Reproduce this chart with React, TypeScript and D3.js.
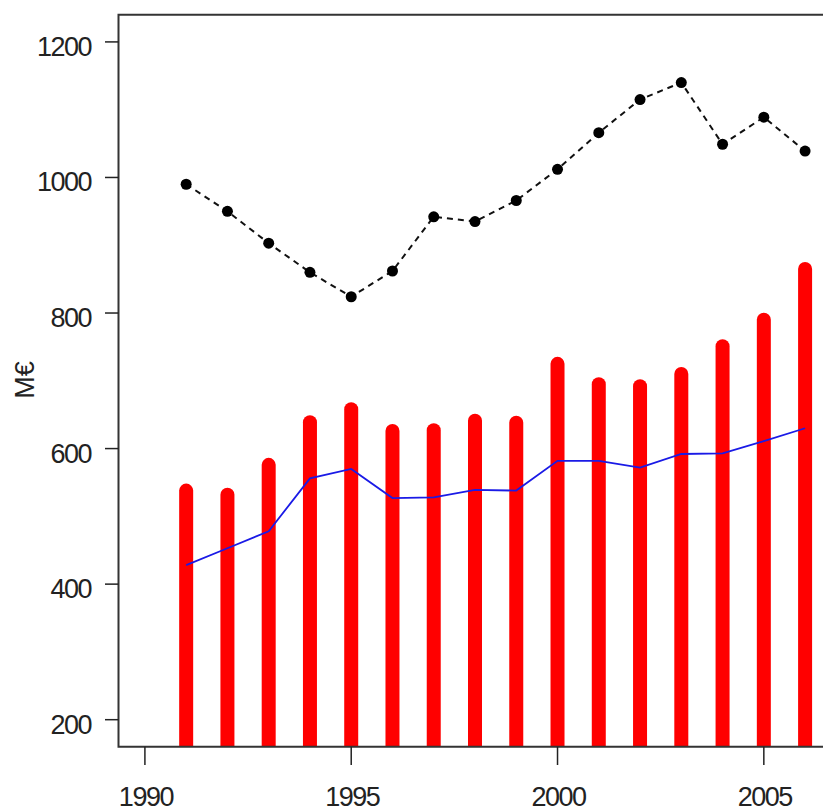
import { useEffect, useRef } from "react"
import * as d3 from "d3"

const years = [1991, 1992, 1993, 1994, 1995, 1996, 1997, 1998, 1999, 2000, 2001, 2002, 2003, 2004, 2005, 2006]
// red spikes
const barValues = [538, 532, 576, 639, 658, 626, 627, 641, 638, 725, 695, 692, 710, 751, 790, 865]
// black dashed with points
const totalValues = [990, 950, 903, 860, 824, 862, 942, 935, 966, 1012, 1066, 1115, 1140, 1049, 1089, 1039]
// thin blue line
const blueValues = [428, 453, 478, 556, 570, 527, 528, 539, 538, 582, 582, 572, 592, 593, 611, 630]

const xTicks = [1990, 1995, 2000, 2005]
const yTicks = [200, 400, 600, 800, 1000, 1200]
const yLabel = "M€"

export default function App() {
  const svgRef = useRef<SVGSVGElement>(null)

  useEffect(() => {
    if (!svgRef.current) return
    const W = 823
    const H = 812
    const left = 118.5
    const top = 14.8
    const bottom = 746.8
    const right = 831.5

    const svg = d3.select(svgRef.current)
    svg.selectAll("*").remove()
    svg.attr("width", W).attr("height", H)

    const x = d3.scaleLinear().domain([1989.36, 2006.64]).range([left, right])
    const y = d3.scaleLinear().domain([160, 1240]).range([bottom, top])

    svg.append("rect").attr("width", W).attr("height", H).attr("fill", "#fff")

    svg.append("clipPath")
      .attr("id", "plot-clip")
      .append("rect")
      .attr("x", left)
      .attr("y", top)
      .attr("width", right - left)
      .attr("height", bottom - top)

    const plot = svg.append("g").attr("clip-path", "url(#plot-clip)")

    // spikes (type = "h")
    plot.selectAll(".bar")
      .data(years)
      .join("line")
      .attr("class", "bar")
      .attr("x1", (d) => x(d))
      .attr("x2", (d) => x(d))
      .attr("y1", y(0))
      .attr("y2", (_, i) => y(barValues[i]))
      .attr("stroke", "#ff0000")
      .attr("stroke-width", 14)
      .attr("stroke-linecap", "round")

    // blue line
    const blueLine = d3.line<number>()
      .x((d) => x(d))
      .y((_, i) => y(blueValues[i]))
    plot.append("path")
      .attr("d", blueLine(years))
      .attr("fill", "none")
      .attr("stroke", "#1a1ae6")
      .attr("stroke-width", 1.8)

    // dashed black line with points
    const totalLine = d3.line<number>()
      .x((d) => x(d))
      .y((_, i) => y(totalValues[i]))
    plot.append("path")
      .attr("d", totalLine(years))
      .attr("fill", "none")
      .attr("stroke", "#111")
      .attr("stroke-width", 2)
      .attr("stroke-dasharray", "6,5")

    plot.selectAll(".pt")
      .data(years)
      .join("circle")
      .attr("class", "pt")
      .attr("cx", (d) => x(d))
      .attr("cy", (_, i) => y(totalValues[i]))
      .attr("r", 5.5)
      .attr("fill", "#000")

    // box (right side is off-canvas)
    svg.append("path")
      .attr("d", `M${right},${top}H${left}V${bottom}H${right}`)
      .attr("fill", "none")
      .attr("stroke", "#333")
      .attr("stroke-width", 2)

    const font = "'Liberation Sans', Arial, Helvetica, sans-serif"

    // y axis ticks
    const ya = svg.append("g")
    ya.selectAll("line")
      .data(yTicks)
      .join("line")
      .attr("x1", 105)
      .attr("x2", left)
      .attr("y1", (d) => y(d))
      .attr("y2", (d) => y(d))
      .attr("stroke", "#222")
      .attr("stroke-width", 1.5)
    ya.selectAll("text")
      .data(yTicks)
      .join("text")
      .attr("x", 91)
      .attr("y", (d) => y(d) + 14)
      .attr("text-anchor", "end")
      .style("font-family", font)
      .style("font-size", "27px")
      .style("letter-spacing", "-1.5px")
      .style("fill", "#222")
      .text((d) => String(d))

    // x axis ticks
    const xa = svg.append("g")
    xa.selectAll("line")
      .data(xTicks)
      .join("line")
      .attr("x1", (d) => x(d))
      .attr("x2", (d) => x(d))
      .attr("y1", bottom)
      .attr("y2", 765)
      .attr("stroke", "#222")
      .attr("stroke-width", 1.5)
    xa.selectAll("text")
      .data(xTicks)
      .join("text")
      .attr("x", (d) => x(d) + 1)
      .attr("y", 806)
      .attr("text-anchor", "middle")
      .style("font-family", font)
      .style("font-size", "27px")
      .style("letter-spacing", "-1.5px")
      .style("fill", "#222")
      .text((d) => String(d))

    // y label
    svg.append("text")
      .attr("transform", `translate(34,380) rotate(-90)`)
      .attr("text-anchor", "middle")
      .style("font-family", font)
      .style("font-size", "27px")
      .style("fill", "#222")
      .text(yLabel)
  }, [])

  return <svg ref={svgRef} style={{ position: "absolute", left: 0, top: 0 }} />
}
